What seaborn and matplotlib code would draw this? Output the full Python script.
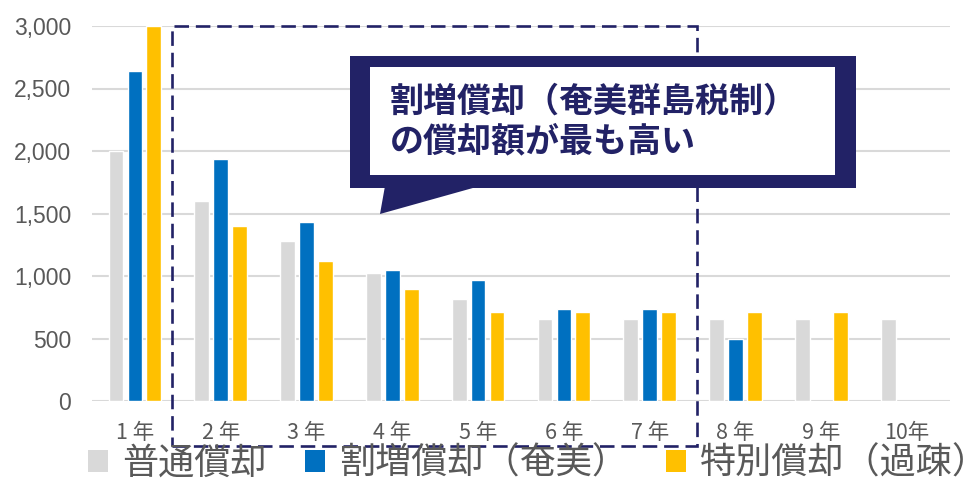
import pandas as pd
import numpy as np
import matplotlib
matplotlib.use('Agg')
import matplotlib.pyplot as plt
import seaborn as sns
from matplotlib.patches import Rectangle, Polygon
from matplotlib.ticker import FuncFormatter

# data
years = ['1 年', '2 年', '3 年', '4 年', '5 年', '6 年', '7 年', '8 年', '9 年', '10年']
futsu = [2000, 1600, 1280, 1024, 819, 655, 655, 655, 655, 655]
warimashi = [2640, 1940, 1430, 1050, 968, 736, 736, 496, np.nan, np.nan]
tokubetsu = [3000, 1400, 1120, 896, 712, 712, 712, 712, 712, np.nan]
series_names = ['普通償却', '割増償却（奄美）', '特別償却（過疎）']
colors = ['#D9D9D9', '#0070C0', '#FFC000']
callout_text = '割増償却（奄美群島税制）\nの償却額が最も高い'

navy = '#222266'
grey_text = '#595959'
JP = ['Noto Sans CJK JP', 'DejaVu Sans']

df = pd.DataFrame({
    'year': years * 3,
    'value': futsu + warimashi + tokubetsu,
    'series': [series_names[0]] * 10 + [series_names[1]] * 10 + [series_names[2]] * 10,
})

sns.set_style('white')
plt.rcParams['font.family'] = JP

W, H = 979, 482
fig = plt.figure(figsize=(W / 100, H / 100), dpi=100)


def fx(px):
    return px / W


def fy(py):
    return 1 - py / H


ax = fig.add_axes([fx(92), fy(401), fx(950) - fx(92), fy(26) - fy(401)])
sns.barplot(data=df, x='year', y='value', hue='series', hue_order=series_names,
            palette=colors, width=0.66, gap=0.22, ax=ax, legend=False,
            saturation=1, errorbar=None)

ax.set_ylim(0, 3000)
ax.set_xlim(-0.5, 9.5)
ax.set_yticks(range(0, 3001, 500))
ax.yaxis.set_major_formatter(FuncFormatter(lambda v, p: f'{int(v):,}'))
ax.grid(axis='y', color='#D9D9D9', linewidth=1.5)
ax.set_axisbelow(True)
for s in ax.spines.values():
    s.set_visible(False)
ax.set_xlabel('')
ax.set_ylabel('')
ax.tick_params(axis='y', length=0, pad=15, labelcolor=grey_text)
ax.tick_params(axis='x', length=0, pad=15, labelcolor=grey_text)
for t in ax.get_yticklabels():
    t.set_fontfamily(['Liberation Sans', 'DejaVu Sans'])
    t.set_fontsize(16.5)
for t in ax.get_xticklabels():
    t.set_fontfamily(JP)
    t.set_fontsize(15.5)

# dashed highlight box around years 2-7
box = Rectangle((fx(172), fy(446)), fx(697) - fx(172), fy(26) - fy(446),
                transform=fig.transFigure, fill=False, edgecolor=navy,
                linewidth=1.9, linestyle=(0, (5.5, 2.6)), clip_on=False, zorder=5)
fig.add_artist(box)

# callout bubble
tail = Polygon([(fx(385), fy(186)), (fx(480), fy(186)), (fx(380), fy(214))],
               closed=True, transform=fig.transFigure, facecolor=navy,
               edgecolor='none', zorder=6)
fig.add_artist(tail)
outer = Rectangle((fx(350), fy(188)), fx(856) - fx(350), fy(56) - fy(188),
                  transform=fig.transFigure, facecolor=navy, edgecolor='none', zorder=6)
fig.add_artist(outer)
inner = Rectangle((fx(370), fy(175)), fx(835) - fx(370), fy(67) - fy(175),
                  transform=fig.transFigure, facecolor='white', edgecolor='none', zorder=7)
fig.add_artist(inner)
fig.text(fx(390), fy(121), callout_text, ha='left', va='center', fontsize=24.5,
         fontweight='bold', color=navy, linespacing=1.15, zorder=8, family=JP)

# legend
handles = [Rectangle((0, 0), 1, 1, facecolor=c, edgecolor='none') for c in colors]
fig.legend(handles, series_names, loc='center left', bbox_to_anchor=(fx(88), fy(464)),
           ncol=3, frameon=False, handlelength=0.55, handleheight=0.55,
           handletextpad=0.4, columnspacing=1.05, labelcolor=grey_text,
           borderpad=0, borderaxespad=0,
           prop={'family': JP, 'size': 26})

fig.savefig('out.png', dpi=100)
